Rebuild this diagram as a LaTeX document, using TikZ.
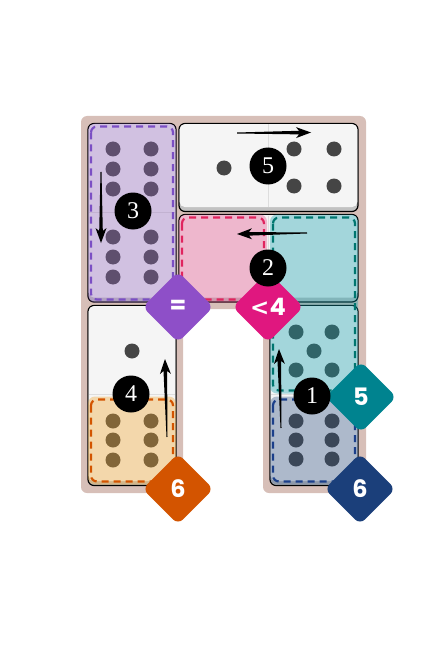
\documentclass[tikz,border=0pt]{standalone}
\usepackage{fontspec}
\usetikzlibrary{calc,shapes.geometric}
\newfontfamily\labfont{Poppins}
\newfontfamily\symfont{DejaVu Sans}
\newfontfamily\numfont{Liberation Serif}
\definecolor{boardc}{HTML}{D7BFB8}
\definecolor{facec}{HTML}{F5F5F5}
\definecolor{shadc}{HTML}{C2C2C2}
\definecolor{pipc}{HTML}{454545}
\definecolor{divc}{HTML}{DDDDDD}
\definecolor{purF}{HTML}{9062BD}
\definecolor{purD}{HTML}{7B4FC4}
\definecolor{purL}{HTML}{8E4FC8}
\definecolor{pinF}{HTML}{E24584}
\definecolor{pinD}{HTML}{E0245E}
\definecolor{pinL}{HTML}{E0177F}
\definecolor{teaF}{HTML}{0C9EAC}
\definecolor{teaD}{HTML}{00766F}
\definecolor{teaL}{HTML}{00838F}
\definecolor{oraF}{HTML}{F1A123}
\definecolor{oraD}{HTML}{D35400}
\definecolor{oraL}{HTML}{D35400}
\definecolor{navF}{HTML}{294B7E}
\definecolor{navD}{HTML}{1B3F8A}
\definecolor{navL}{HTML}{1B3F7A}
\tikzset{
  pipdot/.style={fill=pipc},
  numcirc/.style={circle, fill=black, minimum size=37pt, inner sep=0pt, text=white, font=\numfont\fontsize{24}{24}\selectfont},
  diam/.style={diamond, aspect=1, minimum size=71pt, inner sep=0pt, rounded corners=7pt, text=white, font=\labfont\bfseries\fontsize{24}{24}\selectfont},
  regfill/.style={fill opacity=0.35, rounded corners=7pt},
  regdash/.style={line width=2.2pt, dash pattern=on 7pt off 5pt, rounded corners=6pt},
}
\newcommand\domino[4]{%
  \draw[fill=shadc, line width=1.2pt, rounded corners=6pt] (#1,#2) rectangle (#3,#4);
  \fill[facec, rounded corners=5pt] (#1+0.7,#2+0.7) rectangle (#3-0.7,#4-4.5);
}
\newcommand\pip[2]{\fill[pipdot] (#1,#2) circle (7.5);}
\newcommand\region[6]{%
  \fill[regfill, fill=#5] (#1+1.5,#2+1.5) rectangle (#3-1.5,#4-1.5);
  \draw[regdash, #6] (#1+4.5,#2+4.5) rectangle (#3-4.5,#4-4.5);
}
\newcommand\tarrow[2]{%
  \coordinate (ta) at #1; \coordinate (tb) at #2;
  \coordinate (th) at ($(tb)!15pt!(ta)$);
  \coordinate (tn) at ($(tb)!12pt!(ta)$);
  \fill[black] ($(ta)!0.5pt!90:(tb)$) -- ($(tn)!1.8pt!-90:(ta)$) -- ($(th)!5.5pt!-90:(ta)$) -- (tb)
    -- ($(th)!5.5pt!90:(ta)$) -- ($(tn)!1.8pt!90:(ta)$) -- ($(ta)!0.5pt!-90:(tb)$) -- cycle;
}
\begin{document}
\begin{tikzpicture}[x=1pt,y=-1pt]
\useasboundingbox (0,0) rectangle (447,655);
% board
\fill[boardc, rounded corners=6pt] (81,116) -- (366,116) -- (366,493) -- (263,493) -- (263,309)
  -- (183,309) -- (183,493) -- (81,493) -- cycle;
% dominoes
\domino{88}{123.5}{176}{302}
\draw[divc, line width=0.6pt] (89,212.5) -- (175,212.5);
\domino{179}{123.5}{358}{211.5}
\draw[divc, line width=0.6pt] (268.5,124.5) -- (268.5,207);
\domino{179}{214.5}{358}{302}
\draw[divc, line width=0.6pt] (268.5,215.5) -- (268.5,297.5);
\domino{88}{305.5}{176}{485.5}
\draw[divc, line width=0.6pt] (89,394.5) -- (175,394.5);
\domino{270}{305.5}{358}{485.5}
\draw[divc, line width=0.6pt] (271,394.5) -- (357,394.5);
% pips D3 (6|6)
\foreach \y in {149,169,189,237,257,277}{\pip{113}{\y}\pip{151}{\y}}
% pips D5 (1|4)
\pip{224}{168}
\pip{294}{149}\pip{334}{149}\pip{294}{186}\pip{334}{186}
% pips D4 (1|6)
\pip{132}{351}
\foreach \y in {421,440,460}{\pip{113}{\y}\pip{151}{\y}}
% pips D1 (5|6)
\pip{296}{332}\pip{332}{332}\pip{314}{351}\pip{296}{370}\pip{332}{370}
\foreach \y in {421,440,459}{\pip{296}{\y}\pip{332}{\y}}
% regions
\region{86.5}{122}{177.5}{304}{purF}{purD}
\region{177.5}{213}{268.5}{304}{pinF}{pinD}
\region{268.5}{213}{359.5}{395}{teaF}{teaD}
\region{86.5}{395}{177.5}{486}{oraF}{oraD}
\region{268.5}{395}{359.5}{486}{navF}{navD}
% arrows
\tarrow{(237,133)}{(311,132.5)}
\tarrow{(307,233)}{(237,234)}
\tarrow{(101,172)}{(101,243)}
\tarrow{(167,437)}{(165,359)}
\tarrow{(281,428)}{(279,349)}
% constraint labels
\node[diam, fill=purL] (lEq) at (178,307) {=};
\node[diam, fill=pinL] (lLt) at (268,307) {{\symfont\bfseries\fontsize{23}{23}\selectfont<}4};
\node[diam, fill=teaL] (lFive) at (361,397) {5};
\node[diam, fill=oraL] (lSixA) at (178,489) {6};
\node[diam, fill=navL] (lSixB) at (360,489) {6};
% domino numbers
\node[numcirc] (n3) at (133,211) {3};
\node[numcirc] (n5) at (268,166) {5};
\node[numcirc] (n2) at (268,268) {2};
\node[numcirc] (n4) at (131,394) {4};
\node[numcirc] (n1) at (312,396) {1};
\end{tikzpicture}
\end{document}
